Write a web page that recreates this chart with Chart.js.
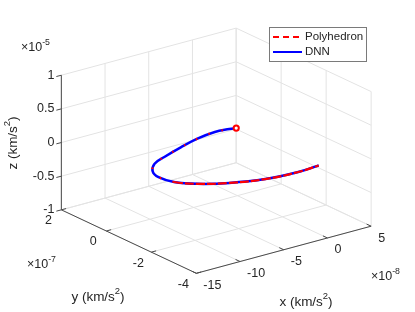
<!DOCTYPE html>
<html>
<head>
<meta charset="utf-8">
<script src="https://cdn.jsdelivr.net/npm/chart.js@4"></script>
<style>
  html, body { margin: 0; padding: 0; background: #fff; }
  canvas { display: block; }
</style>
</head>
<body>
<canvas id="chart-traj" width="415" height="312"></canvas>
<script>
// acceleration components (x in 1e-8, y in 1e-7, z in 1e-5 km/s^2)
const accX = [-0.14, -1.44, -3.62, -6.13, -8.54, -10.94, -12.57, -13.3, -13.15, -11.89, -9.74, -6.59, -2.99, 0.16, 2.09];
const accY = [0, -0.2, -0.4, -0.6, -0.8, -1.0, -1.2, -1.4, -1.6, -1.8, -2.0, -2.2, -2.4, -2.6, -2.8];
const accZ = [0.009, 0.071, 0.136, 0.155, 0.142, 0.115, 0.104, 0.046, -0.014, -0.098, -0.169, -0.235, -0.272, -0.25, -0.186];

const xTicks = [-15, -10, -5, 0, 5];
const yTicks = [-4, -2, 0, 2];
const zTicks = [-1, -0.5, 0, 0.5, 1];
const zTickLabels = ['-1', '-0.5', '0', '0.5', '1'];

const xLim = [-15, 5], yLim = [-4, 2], zLim = [-1, 1];

// view: corner (xmin, ymax, zmin) and the screen vectors of each full axis
const view = { ox: 57, oy: 212, ex: [180, -49], ey: [139, 66], ez: [0, -140] };

function proj(x, y, z) {
    const u = (x - xLim[0]) / (xLim[1] - xLim[0]);
    const v = (yLim[1] - y) / (yLim[1] - yLim[0]);
    const w = (z - zLim[0]) / (zLim[1] - zLim[0]);
    return {
        x: view.ox + view.ex[0] * u + view.ey[0] * v + view.ez[0] * w,
        y: view.oy + view.ex[1] * u + view.ey[1] * v + view.ez[1] * w
    };
}

const curve = accX.map((x, i) => proj(x, accY[i], accZ[i]));
const textColor = '#262626';
const font = 'Liberation Sans, Arial, Helvetica, sans-serif';

function px(chart, p) {
    return [chart.scales.x.getPixelForValue(p.x), chart.scales.y.getPixelForValue(p.y)];
}

function line(ctx, chart, a, b) {
    const p = px(chart, a), q = px(chart, b);
    ctx.beginPath();
    ctx.moveTo(p[0], p[1]);
    ctx.lineTo(q[0], q[1]);
    ctx.stroke();
}

// text with a superscript piece: parts = [[text, sup], ...]
function richText(ctx, parts, x, y, size, align) {
    let w = 0;
    parts.forEach(([t, sup]) => {
        ctx.font = (sup ? size * 0.7 : size) + 'px ' + font;
        w += ctx.measureText(t).width;
    });
    let cx = align === 'center' ? x - w / 2 : (align === 'right' ? x - w : x);
    ctx.textAlign = 'left';
    ctx.textBaseline = 'middle';
    parts.forEach(([t, sup]) => {
        ctx.font = (sup ? size * 0.7 : size) + 'px ' + font;
        ctx.fillText(t, cx, sup ? y - size * 0.4 : y);
        cx += ctx.measureText(t).width;
    });
}

const axes3d = {
    id: 'axes3d',
    beforeDatasetsDraw(chart) {
        const ctx = chart.ctx;
        ctx.save();
        ctx.lineWidth = 1;
        ctx.strokeStyle = '#e3e3e3';
        xTicks.forEach(t => {
            line(ctx, chart, proj(t, yLim[1], zLim[0]), proj(t, yLim[1], zLim[1]));
            line(ctx, chart, proj(t, yLim[1], zLim[0]), proj(t, yLim[0], zLim[0]));
        });
        yTicks.forEach(t => {
            line(ctx, chart, proj(xLim[1], t, zLim[0]), proj(xLim[1], t, zLim[1]));
            line(ctx, chart, proj(xLim[0], t, zLim[0]), proj(xLim[1], t, zLim[0]));
        });
        zTicks.forEach(t => {
            line(ctx, chart, proj(xLim[0], yLim[1], t), proj(xLim[1], yLim[1], t));
            line(ctx, chart, proj(xLim[1], yLim[1], t), proj(xLim[1], yLim[0], t));
        });

        // axis lines
        ctx.strokeStyle = '#4a4a4a';
        line(ctx, chart, proj(xLim[0], yLim[1], zLim[0]), proj(xLim[0], yLim[1], zLim[1]));
        line(ctx, chart, proj(xLim[0], yLim[1], zLim[0]), proj(xLim[0], yLim[0], zLim[0]));
        line(ctx, chart, proj(xLim[0], yLim[0], zLim[0]), proj(xLim[1], yLim[0], zLim[0]));

        // ticks
        ctx.fillStyle = textColor;
        ctx.font = '12.5px ' + font;
        zTicks.forEach((t, i) => {
            const [a, b] = px(chart, proj(xLim[0], yLim[1], t));
            ctx.beginPath(); ctx.moveTo(a, b); ctx.lineTo(a - 5, b + 1.3); ctx.stroke();
            ctx.textAlign = 'right'; ctx.textBaseline = 'middle';
            ctx.fillText(zTickLabels[i], a - 7, b);
        });
        yTicks.forEach(t => {
            const [a, b] = px(chart, proj(xLim[0], t, zLim[0]));
            ctx.beginPath(); ctx.moveTo(a, b); ctx.lineTo(a + 4.8, b - 1.3); ctx.stroke();
            ctx.textAlign = 'center'; ctx.textBaseline = 'middle';
            ctx.fillText(String(t), a - 13, b + 11);
        });
        xTicks.forEach(t => {
            const [a, b] = px(chart, proj(t, yLim[0], zLim[0]));
            ctx.beginPath(); ctx.moveTo(a, b); ctx.lineTo(a - 4.5, b - 2.1); ctx.stroke();
            ctx.textAlign = 'left'; ctx.textBaseline = 'middle';
            ctx.fillText(String(t), a + 7, b + 12);
        });

        // exponents
        richText(ctx, [['\u00d710', false], ['-5', true]], 21, 48, 12.5, 'left');
        richText(ctx, [['\u00d710', false], ['-7', true]], 27, 265, 12.5, 'left');
        richText(ctx, [['\u00d710', false], ['-8', true]], 371, 277, 12.5, 'left');

        // axis labels
        richText(ctx, [['x (km/s', false], ['2', true], [')', false]], 306, 302, 13.5, 'center');
        richText(ctx, [['y (km/s', false], ['2', true], [')', false]], 98, 297, 13.5, 'center');
        ctx.save();
        ctx.translate(13, 143);
        ctx.rotate(-Math.PI / 2);
        richText(ctx, [['z (km/s', false], ['2', true], [')', false]], 0, 0, 13.5, 'center');
        ctx.restore();
        ctx.restore();
    },
    afterDraw(chart) {
        const ctx = chart.ctx;
        ctx.save();
        ctx.fillStyle = '#fff';
        ctx.strokeStyle = '#7a7a7a';
        ctx.lineWidth = 1;
        ctx.fillRect(269.5, 27.5, 97, 34);
        ctx.strokeRect(269.5, 27.5, 97, 34);
        const items = chart.data.datasets.filter(d => d.inLegend);
        items.forEach((d, i) => {
            const yy = 37 + i * 15;
            ctx.strokeStyle = d.borderColor;
            ctx.lineWidth = 2;
            ctx.setLineDash(d.borderDash || []);
            ctx.beginPath(); ctx.moveTo(273, yy); ctx.lineTo(302, yy); ctx.stroke();
            ctx.setLineDash([]);
            ctx.fillStyle = textColor;
            ctx.font = '11.5px ' + font;
            ctx.textAlign = 'left'; ctx.textBaseline = 'middle';
            ctx.fillText(d.label, 305, yy);
        });
        ctx.restore();
    }
};

const chart = new Chart(document.getElementById('chart-traj'), {
    type: 'scatter',
    data: {
        datasets: [{
            label: 'start',
            data: [curve[0]],
            pointRadius: 2.6,
            pointBorderWidth: 2,
            pointBorderColor: '#ff0000',
            pointBackgroundColor: '#ffffff',
            showLine: false
        }, {
            label: 'Polyhedron',
            inLegend: true,
            data: curve,
            showLine: true,
            borderColor: '#ff0000',
            borderWidth: 2.2,
            borderDash: [6, 4],
            // the DNN line hides most of it on the near part of the curve
            segment: {
                borderDash: c => c.p0DataIndex < 9 ? [1.5, 12] : [9, 2]
            },
            tension: 0.4,
            pointRadius: 0
        }, {
            label: 'DNN',
            inLegend: true,
            data: curve,
            showLine: true,
            borderColor: '#0000ff',
            borderWidth: 2.5,
            tension: 0.4,
            pointRadius: 0
        }]
    },
    options: {
        responsive: false,
        animation: false,
        devicePixelRatio: 1,
        layout: { padding: 0 },
        plugins: { legend: { display: false }, tooltip: { enabled: false } },
        scales: {
            x: { type: 'linear', min: 0, max: 415, display: false },
            y: { type: 'linear', min: 0, max: 312, reverse: true, display: false }
        }
    },
    plugins: [axes3d]
});
</script>
</body>
</html>
